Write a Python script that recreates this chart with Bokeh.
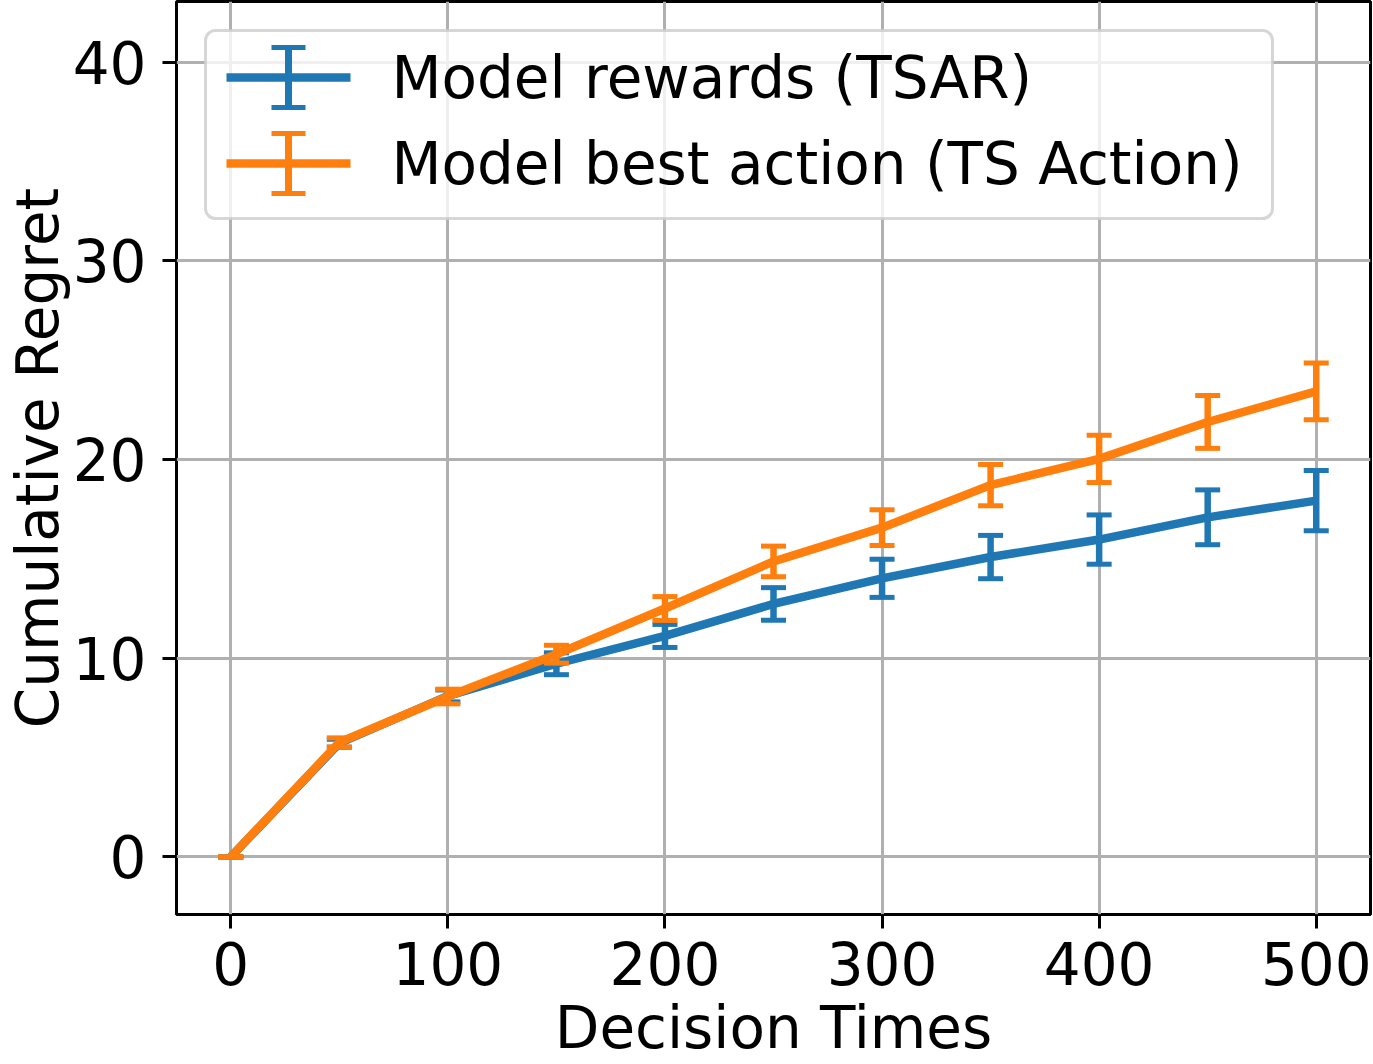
import math
from bokeh.plotting import figure
from bokeh.models import (ColumnDataSource, Range1d, FixedTicker, Label, BoxAnnotation,
                          Arrow, TeeHead)
from bokeh.embed import file_html
from bokeh.resources import INLINE

# ---------------- data ----------------
times = [0, 50, 100, 150, 200, 250, 300, 350, 400, 450, 500]
tsar_mean = [0, 5.72, 8.1, 9.72, 11.12, 12.73, 14.02, 15.09, 15.97, 17.09, 17.93]
tsar_err = [0, 0.2, 0.3, 0.55, 0.58, 0.82, 0.96, 1.09, 1.24, 1.38, 1.52]
action_mean = [0, 5.76, 8.07, 10.2, 12.5, 14.87, 16.57, 18.71, 20.03, 21.89, 23.43]
action_err = [0, 0.23, 0.37, 0.45, 0.6, 0.77, 0.9, 1.04, 1.19, 1.33, 1.43]

series_labels = ["Model rewards (TSAR)", "Model best action (TS Action)"]
colors = ["#1f77b4", "#ff7f0e"]
x_ticks = [0, 100, 200, 300, 400, 500]
y_ticks = [0, 10, 20, 30, 40]
x_label = "Decision Times"
y_label = "Cumulative Regret"

FONT = "DejaVu Sans"
FS = "58px"

p = figure(width=1373, height=1064, output_backend="svg", toolbar_location=None,
           x_range=Range1d(-25, 525), y_range=Range1d(-2.9, 43.05),
           min_border_left=176, min_border_right=3, min_border_top=1, min_border_bottom=149)

p.background_fill_color = "white"
p.border_fill_color = "white"
p.outline_line_color = "black"
p.outline_line_width = 3

for ax, ticks in ((p.xaxis[0], x_ticks), (p.yaxis[0], y_ticks)):
    ax.ticker = FixedTicker(ticks=ticks)
    ax.axis_line_color = None
    ax.major_tick_out = 14
    ax.major_tick_in = 0
    ax.major_tick_line_width = 3
    ax.major_tick_line_color = "black"
    ax.minor_tick_line_color = None
    ax.major_label_text_font = FONT
    ax.major_label_text_font_size = FS
    ax.major_label_text_color = "black"
    ax.axis_label_text_font = FONT
    ax.axis_label_text_font_size = FS
    ax.axis_label_text_font_style = "normal"
    ax.axis_label_text_color = "black"

p.xaxis.major_label_standoff = 13
p.yaxis.major_label_standoff = 16
p.xaxis.axis_label = x_label
p.yaxis.axis_label = y_label
p.xaxis.axis_label_standoff = 6
p.yaxis.axis_label_standoff = -2

p.xgrid.ticker = FixedTicker(ticks=x_ticks)
p.ygrid.ticker = FixedTicker(ticks=y_ticks)
for g in (p.xgrid[0], p.ygrid[0]):
    g.grid_line_color = "#b0b0b0"
    g.grid_line_width = 3

# ---------------- series with error bars ----------------
for mean, err, col in ((tsar_mean, tsar_err, colors[0]), (action_mean, action_err, colors[1])):
    src = ColumnDataSource(dict(
        x=times, y=mean,
        lo=[m - e for m, e in zip(mean, err)],
        hi=[m + e for m, e in zip(mean, err)],
    ))
    p.line("x", "y", source=src, line_color=col, line_width=8.5, line_join="miter")
    p.segment(x0="x", y0="lo", x1="x", y1="hi", source=src, line_color=col, line_width=6.5)
    p.scatter("x", "lo", source=src, marker="dash", size=25, line_color=col, line_width=5)
    p.scatter("x", "hi", source=src, marker="dash", size=25, line_color=col, line_width=5)

# ---------------- legend (drawn manually, screen units rel. to frame) ----------------
p.add_layout(BoxAnnotation(left=29, right=1096, top=884, bottom=696,
                           left_units="screen", right_units="screen",
                           top_units="screen", bottom_units="screen",
                           fill_color="white", fill_alpha=0.8,
                           line_color="#cccccc", line_alpha=0.8, line_width=3,
                           border_radius=10, level="overlay"))

leg_rows = [837, 751]
for ly, col, lab in zip(leg_rows, colors, series_labels):
    p.add_layout(Arrow(x_start=50, y_start=ly, x_end=174, y_end=ly,
                       start_units="screen", end_units="screen",
                       start=None, end=None, line_color=col, line_width=8.5, level="overlay"))
    p.add_layout(Arrow(x_start=112, y_start=ly - 30, x_end=112, y_end=ly + 30,
                       start_units="screen", end_units="screen",
                       start=TeeHead(size=34, line_width=5, line_color=col),
                       end=TeeHead(size=34, line_width=5, line_color=col),
                       line_color=col, line_width=7, level="overlay"))
    p.add_layout(Label(x=215, y=ly, x_units="screen", y_units="screen", text=lab,
                       text_font=FONT, text_font_size=FS, text_align="left",
                       text_baseline="middle", text_color="black", level="overlay"))

open("out.html", "w").write(file_html(p, INLINE))
